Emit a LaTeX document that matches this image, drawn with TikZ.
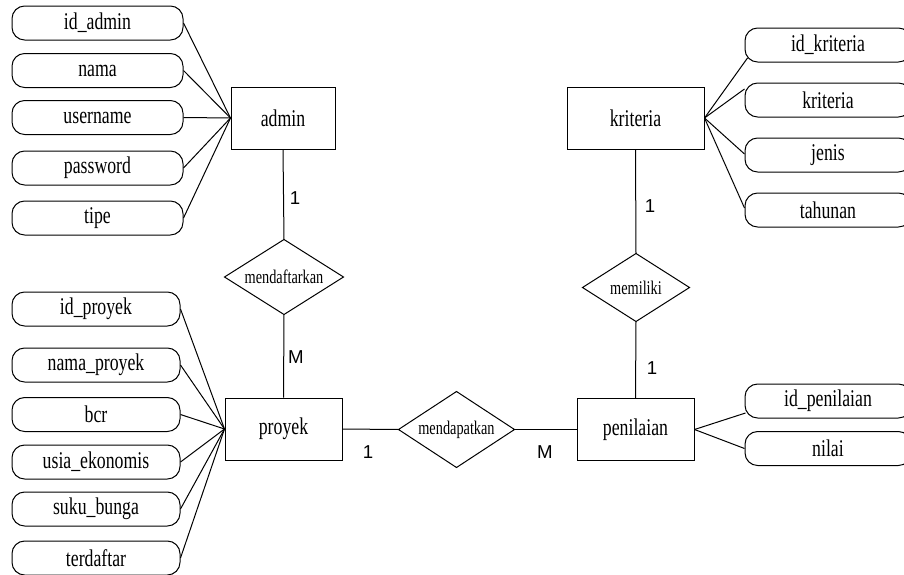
\documentclass[tikz,border=0pt]{standalone}
\usepackage{fontspec}
\setmainfont{Liberation Serif}[FakeStretch=0.74]
\newfontfamily\lsans{Liberation Sans}
\begin{document}
\begin{tikzpicture}[x=0.75pt,y=-0.75pt,line width=0.75pt,
  attrbox/.style={draw,rounded corners=9.5pt,minimum height=25.5pt,inner sep=0pt,font=\fontsize{18}{20}\selectfont},
  attrA/.style={attrbox,minimum width=128.25pt},
  attrB/.style={attrbox,minimum width=126pt},
  attrC/.style={attrbox,minimum width=124.5pt},
  entbox/.style={draw,minimum height=46.5pt,inner sep=0pt,font=\fontsize{18}{20}\selectfont},
  relbox/.style={inner sep=0pt,font=\fontsize{14.5}{16}\selectfont},
  card/.style={inner sep=0pt,font=\lsans\fontsize{14}{16}\selectfont}]
\useasboundingbox (0,0) rectangle (904,575);
\clip (0,0) rectangle (904,575);
% entities
\node[entbox,minimum width=78pt] (admin) at (283,118) {admin};
\node[entbox,minimum width=87.75pt] (proyek) at (283.5,429) {proyek};
\node[entbox,minimum width=102.75pt] (kriteria) at (635.5,118) {kriteria};
\node[entbox,minimum width=87.75pt] (penilaian) at (635.5,429.5) {penilaian};
% relationships
\node[relbox,minimum width=88.5pt,minimum height=55.5pt] (rd) at (284,277) {mendaftarkan};
\node[relbox,minimum width=86.25pt,minimum height=56.25pt] (rp) at (456.5,429.5) {mendapatkan};
\node[relbox,minimum width=79.5pt,minimum height=50.25pt] (rm) at (636,287.5) {memiliki};
\foreach \d in {rd,rp,rm} \draw (\d.north) -- (\d.east) -- (\d.south) -- (\d.west) -- cycle;
% admin attributes
\node[attrA] (ida) at (97.5,23) {id\_admin};
\node[attrA] (nama) at (97.5,70.5) {nama};
\node[attrA] (user) at (97.5,117.5) {username};
\node[attrA] (pass) at (97.5,168) {password};
\node[attrA] (tipe) at (97.5,218) {tipe};
% proyek attributes
\node[attrB] (idp) at (96,309) {id\_proyek};
\node[attrB] (namap) at (96,365) {nama\_proyek};
\node[attrB] (bcr) at (96,414.5) {bcr};
\node[attrB] (usia) at (96,462) {usia\_ekonomis};
\node[attrB] (suku) at (96,509) {suku\_bunga};
\node[attrB] (terd) at (96,558) {terdaftar};
% kriteria attributes
\node[attrC] (idk) at (828,45) {id\_kriteria};
\node[attrC] (krit) at (828,100) {kriteria};
\node[attrC] (jenis) at (828,155) {jenis};
\node[attrC] (tahun) at (828,210) {tahunan};
% penilaian attributes
\node[attrC] (idn) at (828,401) {id\_penilaian};
\node[attrC] (nilai) at (828,448.5) {nilai};
% attribute connectors
\foreach \n in {ida,nama,user,pass,tipe} \draw (\n.east) -- (admin.west);
\foreach \n in {idp,namap,bcr,usia,suku,terd} \draw (\n.east) -- (proyek.west);
\draw (kriteria.east) -- ([shift={(3,13)}]idk.west);
\draw (kriteria.east) -- ([shift={(0,-11)}]krit.west);
\draw (kriteria.east) -- ([shift={(0,-1)}]jenis.west);
\draw (kriteria.east) -- ([shift={(0,-2)}]tahun.west);
\draw (penilaian.east) -- ([shift={(1,12)}]idn.west);
\draw (penilaian.east) -- (nilai.west);
% relationship connectors
\draw (admin.south) -- (rd.north);
\draw (rd.south) -- (proyek.north);
\draw (proyek.east) -- (rp.west);
\draw (rp.east) -- (penilaian.west);
\draw (kriteria.south) -- (rm.north);
\draw (rm.south) -- (penilaian.north);
% cardinalities
\node[card] (c1) at (295,198) {1};
\node[card] (c2) at (296,357) {M};
\node[card] (c3) at (368,452) {1};
\node[card] (c4) at (545,452) {M};
\node[card] (c5) at (650,206) {1};
\node[card] (c6) at (652,368) {1};
\end{tikzpicture}
\end{document}
